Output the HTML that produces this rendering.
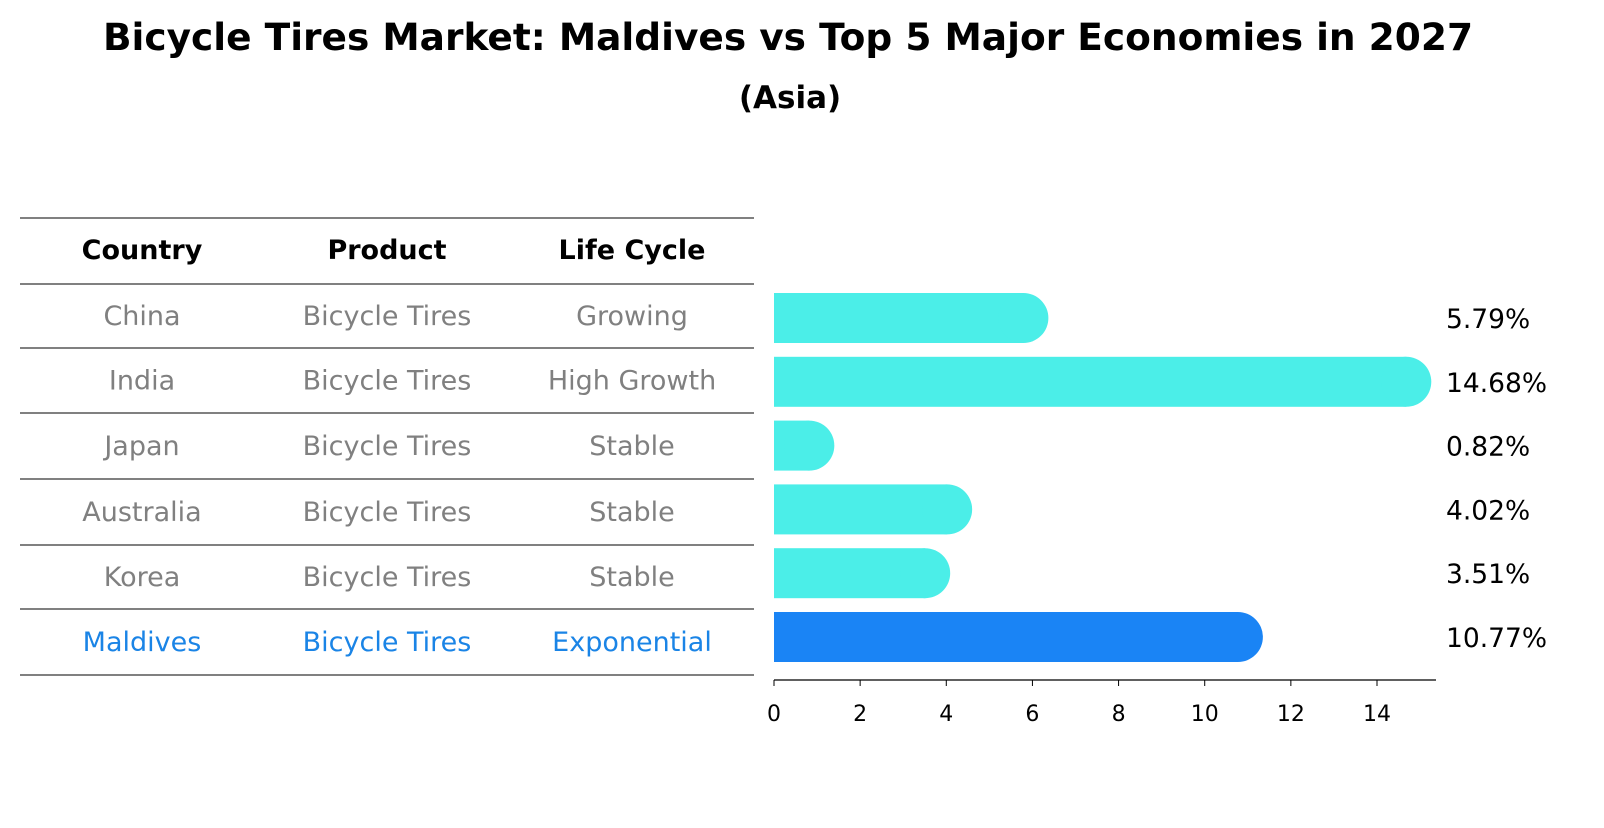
<!DOCTYPE html>
<html><head><meta charset="utf-8"><style>
body{margin:0;background:#fff;font-family:"Liberation Sans","DejaVu Sans",sans-serif;}
</style></head><body>
<svg width="1604" height="823" xmlns="http://www.w3.org/2000/svg" style="font-family:'DejaVu Sans','Liberation Sans',sans-serif">
<text x="788" y="50" text-anchor="middle" font-size="37.5" font-weight="bold">Bicycle Tires Market: Maldives vs Top 5 Major Economies in 2027</text>
<text x="790" y="108" text-anchor="middle" font-size="31" font-weight="bold">(Asia)</text>
<g id="table"></g>
<g id="bars"></g>
</svg>
<script>
const countries=["China","India","Japan","Australia","Korea","Maldives"];
const lifeCycle=["Growing","High Growth","Stable","Stable","Stable","Exponential"];
const values=[5.79,14.68,0.82,4.02,3.51,10.77];
const ticks=[0,2,4,6,8,10,12,14];
const NS="http://www.w3.org/2000/svg";
function mk(t,a,p){const e=document.createElementNS(NS,t);for(const k in a)e.setAttribute(k,a[k]);p.appendChild(e);return e;}
const tb=document.getElementById('table');
const lines=[218,284,348,413,479,545,609,675];
lines.forEach(y=>{const l=mk('line',{x1:20,x2:754,y1:y,y2:y,stroke:'#000','stroke-width':1},tb);

});
const cols=[142,387,632];
["Country","Product","Life Cycle"].forEach((h,i)=>{const t=mk('text',{x:cols[i],y:259,'text-anchor':'middle','font-size':27,'font-weight':'bold'},tb);t.textContent=h;

});
countries.forEach((c,r)=>{const y=(lines[r+1]+lines[r+2])/2+9;const col=c==="Maldives"?"#1a84e6":"#808080";
[c,"Bicycle Tires",lifeCycle[r]].forEach((v,i)=>{const t=mk('text',{x:cols[i],y:y,'text-anchor':'middle','font-size':27,fill:col},tb);t.textContent=v;

});});
const bg=document.getElementById('bars');
const x0=774,sc=(1377-774)/14;const X=v=>x0+v*sc;
const Y=i=>318+i*63.8;const h=50;
values.forEach((v,i)=>{const col=i===5?"#1a84f5":"#4beee8";
const g=mk('g',{},bg);


mk('rect',{x:x0,y:Y(i)-h/2,width:Math.max(0,X(v)-x0),height:h,fill:col},g);
mk('circle',{cx:X(v),cy:Y(i),r:h/2,fill:col},g);
const t=mk('text',{x:1446,y:Y(i)+10,'font-size':26.5},bg);t.textContent=v.toFixed(2)+'%';

});
const ax=mk('line',{x1:x0,x2:1436,y1:680,y2:680,stroke:'#000','stroke-width':1.3},bg);


ticks.forEach(tv=>{mk('line',{x1:X(tv),x2:X(tv),y1:680,y2:686,stroke:'#000'},bg);
const t=mk('text',{x:X(tv),y:721,'text-anchor':'middle','font-size':22},bg);t.textContent=tv;

});
</script>
</body></html>
